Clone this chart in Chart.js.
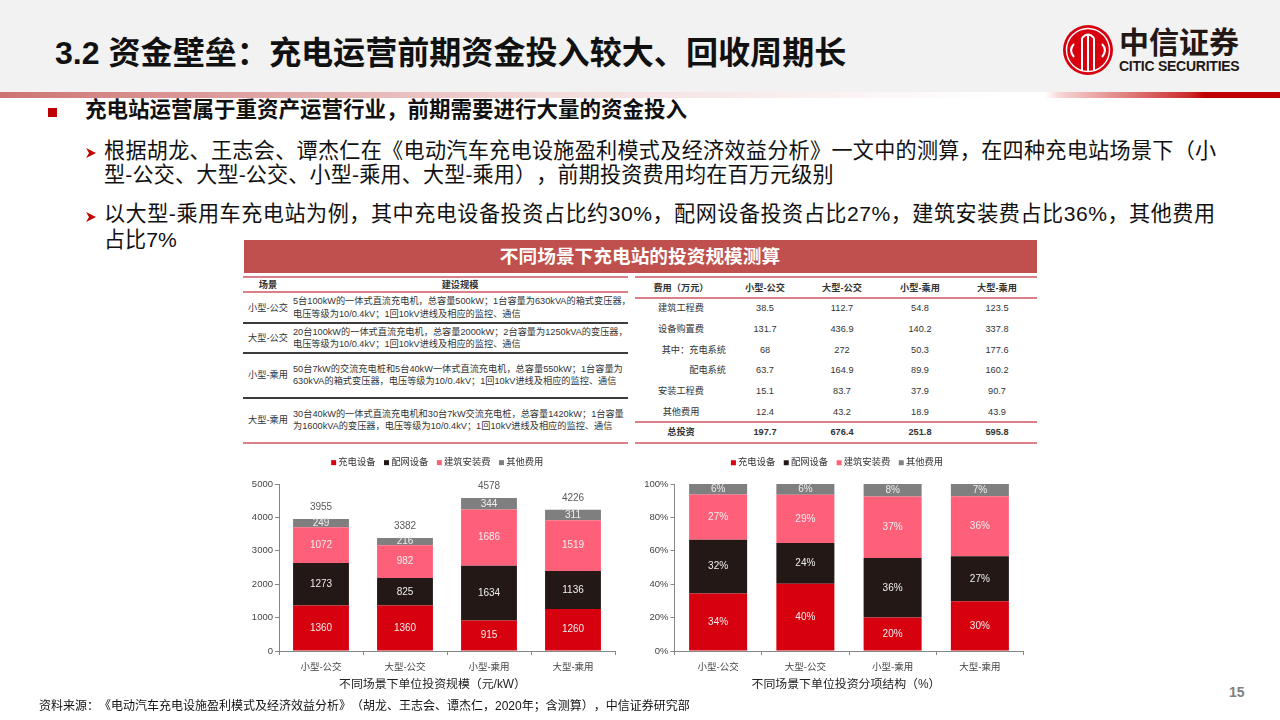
<!DOCTYPE html>
<html lang="zh">
<head>
<meta charset="utf-8">
<title>3.2 资金壁垒</title>
<script src="https://cdn.jsdelivr.net/npm/chart.js@4"></script>
<style>
  html, body { margin: 0; padding: 0; background: #fff; }
  body { position: relative; width: 1280px; height: 720px; overflow: hidden; font-family: "Liberation Sans", "Noto Sans CJK SC", sans-serif; color: #111; text-spacing-trim: space-all; text-autospace: no-autospace; }
  .t { position: absolute; white-space: nowrap; line-height: 1; transform: translateY(-50%); }
  .c { transform: translate(-50%, -50%); }
  .r { transform: translate(-100%, -50%); }
  .b { font-weight: 700; }
  .rule { position: absolute; }
  .pink { background: #d9808a; height: 2px; }
  .dark { background: #3c3c3c; height: 1.5px; }
  #head { position: absolute; left: 0; top: 0; width: 1280px; height: 92px; background: #f2f2f2; }
  #stripe { position: absolute; left: 0; top: 92px; width: 1280px; height: 6px; background: linear-gradient(90deg, #ce7373 0, #f4dcdc 560px, #fff 1000px, #fff 1045px, #f6d5d5 1060px, #cc2a2a 1190px, #c00000 1205px, #c00000 100%); }
  #banner { position: absolute; left: 244px; top: 240px; width: 793px; height: 33px; background: #c0504d; }
  canvas { position: absolute; }
  .tb { font-size: 9.2px; color: #333; }
  .ax { font-size: 11.9px; color: #222; }
  .sub { font-size: 21.1px; }
</style>
</head>
<body>
<div id="head"></div>
<div id="stripe"></div>
<div class="t b" style="left:55px;top:53px;font-size:32.1px;">3.2 资金壁垒：充电运营前期资金投入较大、回收周期长</div>

<svg style="position:absolute;left:1062px;top:24px" width="52" height="52" viewBox="0 0 52 52">
  <circle cx="26" cy="26" r="25" fill="#d7000f"/>
  <circle cx="26" cy="26" r="21.5" fill="none" stroke="#fff" stroke-width="1.4"/>
  <path d="M20 47V14M26 48V10M32 47V14M20 14Q26 7 32 14M12 20Q6 26 12 33M40 20Q46 26 40 33" fill="none" stroke="#fff" stroke-width="2"/>
</svg>
<div class="t b" style="left:1119px;top:43px;font-size:30px;color:#231815;">中信证券</div>
<div class="t b" style="left:1119px;top:66px;font-size:14px;color:#231815;letter-spacing:-0.25px;">CITIC SECURITIES</div>

<div style="position:absolute;left:48px;top:108px;width:9px;height:9px;background:#c00000"></div>
<div class="t b" style="left:85px;top:111px;font-size:21.5px;">充电站运营属于重资产运营行业，前期需要进行大量的资金投入</div>
<svg style="position:absolute;left:86px;top:148px" width="10" height="10"><polygon points="0,0 10,5 0,10 3,5" fill="#c00000"/></svg>
<div class="t sub" style="left:104px;top:151px;letter-spacing:.3px;">根据胡龙、王志会、谭杰仁在《电动汽车充电设施盈利模式及经济效益分析》一文中的测算，在四种充电站场景下（小</div>
<div class="t sub" style="left:104px;top:175px;letter-spacing:.15px;">型-公交、大型-公交、小型-乘用、大型-乘用），前期投资费用均在百万元级别</div>
<svg style="position:absolute;left:86px;top:212px" width="10" height="10"><polygon points="0,0 10,5 0,10 3,5" fill="#c00000"/></svg>
<div class="t sub" style="left:104px;top:214px;letter-spacing:.52px;">以大型-乘用车充电站为例，其中充电设备投资占比约30%，配网设备投资占比27%，建筑安装费占比36%，其他费用</div>
<div class="t sub" style="left:104px;top:240px;">占比7%</div>

<div id="banner"></div>
<div class="t c b" style="left:640px;top:257px;font-size:18.7px;color:#fff;">不同场景下充电站的投资规模测算</div>

<div id="tables"></div>

<canvas id="amountChart" width="386" height="253" style="left:244px;top:447px"></canvas>
<canvas id="shareChart" width="386" height="253" style="left:644px;top:447px"></canvas>
<div class="t c ax" style="left:432.5px;top:685px;">不同场景下单位投资规模（元/kW）</div>
<div class="t c ax" style="left:846px;top:685px;">不同场景下单位投资分项结构（%）</div>

<div class="t" style="left:39px;top:706px;font-size:12px;">资料来源：《电动汽车充电设施盈利模式及经济效益分析》（胡龙、王志会、谭杰仁，2020年；含测算），中信证券研究部</div>
<div class="t b" style="left:1229px;top:692px;font-size:14px;color:#7f7f7f;">15</div>

<script>
const scenes = ["小型-公交", "大型-公交", "小型-乘用", "大型-乘用"];
const seriesNames = ["充电设备", "配网设备", "建筑安装费", "其他费用"];
const seriesColors = ["#d7000f", "#231815", "#ff6079", "#7f7f7f"];

// 单位投资规模（元/kW）
const amountCharge = [1360, 1360, 915, 1260];
const amountGrid = [1273, 825, 1634, 1136];
const amountBuild = [1072, 982, 1686, 1519];
const amountOther = [249, 216, 344, 311];
const amountTotal = [3955, 3382, 4578, 4226];

// 分项结构（%）
const shareCharge = [34.4, 40.2, 20.0, 29.8];
const shareGrid = [32.2, 24.4, 35.7, 26.9];
const shareBuild = [27.1, 29.0, 36.8, 35.9];
const shareOther = [6.3, 6.4, 7.5, 7.4];

// 表格
const scaleLines = [
  ["5台100kW的一体式直流充电机，总容量500kW；1台容量为630kVA的箱式变压器，", "电压等级为10/0.4kV；1回10kV进线及相应的监控、通信"],
  ["20台100kW的一体式直流充电机，总容量2000kW；2台容量为1250kVA的变压器，", "电压等级为10/0.4kV；1回10kV进线及相应的监控、通信"],
  ["50台7kW的交流充电桩和5台40kW一体式直流充电机，总容量550kW；1台容量为", "630kVA的箱式变压器，电压等级为10/0.4kV；1回10kV进线及相应的监控、通信"],
  ["30台40kW的一体式直流充电机和30台7kW交流充电桩，总容量1420kW；1台容量", "为1600kVA的变压器，电压等级为10/0.4kV；1回10kV进线及相应的监控、通信"]
];
const costNames = ["建筑工程费", "设备购置费", "其中：充电系统", "配电系统", "安装工程费", "其他费用", "总投资"];
const costRows = [
  ["38.5", "112.7", "54.8", "123.5"],
  ["131.7", "436.9", "140.2", "337.8"],
  ["68", "272", "50.3", "177.6"],
  ["63.7", "164.9", "89.9", "160.2"],
  ["15.1", "83.7", "37.9", "90.7"],
  ["12.4", "43.2", "18.9", "43.9"],
  ["197.7", "676.4", "251.8", "595.8"]
];

function addText(str, x, y, cls) {
  const el = document.createElement("div");
  el.className = "t tb " + (cls || "");
  el.style.left = x + "px";
  el.style.top = (y + 1) + "px";
  el.textContent = str;
  document.getElementById("tables").appendChild(el);
}

function addRule(x, y, w, cls) {
  const el = document.createElement("div");
  el.className = "rule " + cls;
  el.style.left = x + "px";
  el.style.top = y + "px";
  el.style.width = w + "px";
  document.getElementById("tables").appendChild(el);
}

function drawTables() {
  // 左表
  [276, 291, 442].forEach(y => addRule(243, y, 385, "pink"));
  [322, 352, 397].forEach(y => addRule(243, y, 385, "dark"));
  addText("场景", 268, 285, "c b");
  addText("建设规模", 460, 285, "c b");
  const sceneY = [308, 338, 375, 420];
  const lineY = [[301, 314], [332, 344], [369, 381], [414, 426]];
  scenes.forEach((s, i) => {
    addText(s, 268, sceneY[i], "c");
    addText(scaleLines[i][0], 293, lineY[i][0]);
    addText(scaleLines[i][1], 293, lineY[i][1]);
  });

  // 右表
  [276, 297, 421, 442].forEach(y => addRule(635, y, 402, "pink"));
  const colX = [765, 842, 920, 997];
  const rowY = [308, 329, 350, 370, 391, 412, 432];
  addText("费用（万元）", 681, 288, "c b");
  scenes.forEach((s, i) => addText(s, colX[i], 288, "c b"));
  costNames.forEach((name, r) => {
    const bold = r === 6 ? " b" : "";
    if (r === 2 || r === 3) addText(name, 726, rowY[r], "r");
    else addText(name, 681, rowY[r], "c" + bold);
    costRows[r].forEach((v, i) => addText(v, colX[i], rowY[r], "c" + bold));
  });
}

// 柱内数值和柱顶合计
const barLabels = {
  id: "barLabels",
  afterDatasetsDraw(chart, args, opts) {
    const ctx = chart.ctx;
    ctx.save();
    ctx.font = '10px "Liberation Sans", "Noto Sans CJK SC"';
    ctx.textAlign = "center";
    ctx.textBaseline = "middle";
    chart.data.datasets.forEach((ds, d) => {
      chart.getDatasetMeta(d).data.forEach((bar, i) => {
        ctx.fillStyle = "#eeeeee";
        ctx.fillText(opts.format(ds.data[i]), bar.x, (bar.y + bar.base) / 2);
      });
    });
    if (opts.totals) {
      ctx.fillStyle = "#595959";
      opts.totals.forEach((v, i) => {
        const x = chart.scales.x.getPixelForValue(i);
        ctx.fillText(v, x, chart.scales.y.getPixelForValue(v) - 12);
      });
    }
    ctx.restore();
  }
};

// 图例下方留空，图形区上沿固定；图例可左右挪
const legendGap = {
  id: "legendGap",
  beforeLayout(chart) {
    if (chart.legend.gapDone) return;
    const fit = chart.legend.fit;
    chart.legend.fit = function () {
      fit.call(this);
      this.height = 37;
    };
    chart.legend.gapDone = true;
  },
  afterLayout(chart, args, opts) {
    chart.legend.left += opts.dx;
    chart.legend.right += opts.dx;
  }
};

function drawBar(id, groups, opts) {
  const font = { family: '"Liberation Sans", "Noto Sans CJK SC"', size: 9.5 };
  new Chart(document.getElementById(id), {
    type: "bar",
    data: {
      labels: scenes,
      datasets: groups.map((g, i) => ({
        label: seriesNames[i],
        data: g,
        backgroundColor: seriesColors[i],
        borderWidth: 0,
        categoryPercentage: 0.665,
        barPercentage: 1
      }))
    },
    options: {
      responsive: false,
      animation: false,
      layout: { padding: { right: opts.right } },
      plugins: {
        tooltip: { enabled: false },
        legend: {
          position: "top",
          labels: {
            usePointStyle: true,
            pointStyle: "rect",
            boxWidth: 0.01,
            boxHeight: 5,
            padding: 11,
            color: "#333",
            font: { family: font.family, size: 9.3 }
          }
        },
        legendGap: { dx: opts.legendShift },
        barLabels: { format: opts.format, totals: opts.totals }
      },
      scales: {
        x: {
          stacked: true,
          afterFit: s => { s.height = 49; },
          grid: { drawOnChartArea: false, color: "#868686", tickLength: 4 },
          border: { color: "#868686" },
          ticks: { color: "#444", font: font, padding: 7, maxRotation: 0 }
        },
        y: {
          stacked: true,
          min: 0,
          max: opts.max,
          afterFit: s => { s.width = opts.axisWidth; },
          grid: { drawOnChartArea: false, color: "#868686", tickLength: 4 },
          border: { color: "#868686" },
          ticks: { stepSize: opts.step, color: "#444", font: font, padding: 2, callback: opts.tick }
        }
      }
    },
    plugins: [barLabels, legendGap]
  });
}

window.onload = function () {
  drawTables();
  drawBar("amountChart", [amountCharge, amountGrid, amountBuild, amountOther], {
    max: 5000, step: 1000, axisWidth: 35, right: 15, legendShift: 9,
    format: v => String(v),
    tick: v => String(v),
    totals: amountTotal
  });
  drawBar("shareChart", [shareCharge, shareGrid, shareBuild, shareOther], {
    max: 100, step: 20, axisWidth: 30.5, right: 6.5, legendShift: 4.5,
    format: v => v.toFixed(0) + "%",
    tick: v => v + "%"
  });
};
</script>
</body>
</html>
